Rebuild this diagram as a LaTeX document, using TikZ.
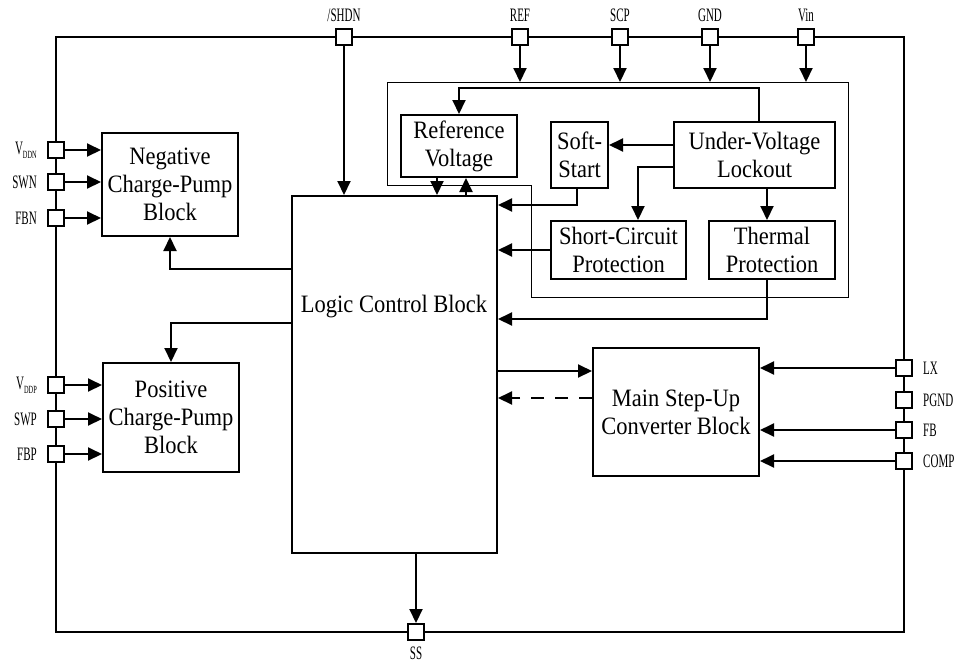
\documentclass[tikz,border=0pt]{standalone}
\usepackage{fontspec}
\setmainfont{Liberation Serif}
\newfontfamily\blockfont[FakeStretch=0.9]{Liberation Serif}
\newfontfamily\pinfont[FakeStretch=0.58]{Liberation Serif}
\usetikzlibrary{arrows.meta}
\usetikzlibrary{positioning}

\newcommand{\pinsub}[1]{\raisebox{-0.45ex}{\fontsize{11}{11}\selectfont #1}}

\begin{document}
\begin{tikzpicture}[
        x=1pt, y=-1pt,
        >={Triangle[length=14pt,width=13pt]},
        block/.style={
            draw=black,
            line width=2pt,
            fill=white,
            align=center,
            inner sep=0pt,
            font=\blockfont\fontsize{25}{28}\selectfont
        },
        pinbox/.style={draw=black, line width=2pt, fill=white,
            minimum size=16pt, inner sep=0pt},
        pinlbl/.style={inner sep=0pt, font=\pinfont\fontsize{19}{19}\selectfont},
        wire/.style={line width=2pt},
        sig/.style={line width=2pt, ->}
    ]

    \useasboundingbox (0,0) rectangle (955,665);

    % chip outline and the supervisory group
    \draw[wire] (56,37) rectangle (904,632);
    \coordinate (grpNW) at (387,82);
    \draw[line width=1pt] (grpNW) -- (848,82) -- (848,297) -- (531,297)
        -- (531,185) -- (387,185) -- cycle;

    % blocks
    \node[block, minimum width=136pt, minimum height=103pt] (negcp) at (170,184.5)
        {Negative\\Charge-Pump\\Block};
    \node[block, minimum width=136pt, minimum height=109pt] (poscp) at (171,417.5)
        {Positive\\Charge-Pump\\Block};
    \node[block, minimum width=205pt, minimum height=357pt] (lcb) at (394.5,374.5) {};
    \node[font=\blockfont\fontsize{25}{28}\selectfont, inner sep=0pt] (lcbtext) at (394,307)
        {Logic Control Block};
    \node[block, minimum width=116pt, minimum height=62pt] (refv) at (459,146)
        {Reference\\Voltage};
    \node[block, minimum width=57pt, minimum height=66pt] (soft) at (579.5,155)
        {Soft-\\Start};
    \node[block, minimum width=161pt, minimum height=66pt] (uvlo) at (754.5,155)
        {Under-Voltage\\Lockout};
    \node[block, minimum width=135pt, minimum height=58pt] (scp) at (618.5,250)
        {Short-Circuit\\Protection};
    \node[block, minimum width=126pt, minimum height=58pt] (thp) at (772,250)
        {Thermal\\Protection};
    \node[block, minimum width=166pt, minimum height=128pt] (conv) at (676,412)
        {Main Step-Up\\Converter Block};

    % pins
    \node[pinbox] (pSHDN) at (344,37) {};
    \node[pinbox] (pREF)  at (520,37) {};
    \node[pinbox] (pSCP)  at (620,37) {};
    \node[pinbox] (pGND)  at (710,37) {};
    \node[pinbox] (pVIN)  at (806,37) {};

    \node[pinbox] (pVDDN) at (56,150) {};
    \node[pinbox] (pSWN)  at (56,182) {};
    \node[pinbox] (pFBN)  at (56,218) {};
    \node[pinbox] (pVDDP) at (56,385) {};
    \node[pinbox] (pSWP)  at (56,419) {};
    \node[pinbox] (pFBP)  at (56,454) {};

    \node[pinbox] (pLX)   at (904,368) {};
    \node[pinbox] (pPGND) at (904,400) {};
    \node[pinbox] (pFB)   at (904,430) {};
    \node[pinbox] (pCOMP) at (904,461) {};

    \node[pinbox] (pSS)   at (416,632) {};

    \node[pinlbl, above=6pt of pSHDN] (lSHDN) {/SHDN};
    \node[pinlbl, above=6pt of pREF]  (lREF)  {REF};
    \node[pinlbl, above=6pt of pSCP]  (lSCP)  {SCP};
    \node[pinlbl, above=6pt of pGND]  (lGND)  {GND};
    \node[pinlbl, above=6pt of pVIN]  (lVIN)  {Vin};

    \node[pinlbl, left=10pt of pVDDN] (lVDDN) {V\pinsub{DDN}};
    \node[pinlbl, left=10pt of pSWN]  (lSWN)  {SWN};
    \node[pinlbl, left=10pt of pFBN]  (lFBN)  {FBN};
    \node[pinlbl, left=10pt of pVDDP] (lVDDP) {V\pinsub{DDP}};
    \node[pinlbl, left=10pt of pSWP]  (lSWP)  {SWP};
    \node[pinlbl, left=10pt of pFBP]  (lFBP)  {FBP};

    \node[pinlbl, right=10pt of pLX]   (lLX)   {LX};
    \node[pinlbl, right=10pt of pPGND] (lPGND) {PGND};
    \node[pinlbl, right=10pt of pFB]   (lFB)   {FB};
    \node[pinlbl, right=10pt of pCOMP] (lCOMP) {COMP};

    \node[pinlbl, below=6pt of pSS] (lSS) {SS};

    % signals
    \foreach \p in {pREF,pSCP,pGND,pVIN}
        \draw[sig] (\p.south) -- (\p |- grpNW);
    \draw[sig] (pSHDN.south) -- (pSHDN |- lcb.north);

    \draw[sig] ([xshift=4.5pt]uvlo.north) |- ([yshift=26pt]refv.north) -- (refv.north);
    \draw[sig] ([yshift=10pt]uvlo.west) -- ([yshift=10pt]uvlo.west -| soft.east);
    \draw[sig] ([yshift=-12pt]uvlo.west) -| ([xshift=19.5pt]scp.north);
    \draw[sig] ([xshift=12.5pt]uvlo.south) -- ([xshift=12.5pt]uvlo.south |- thp.north);

    \draw[sig] ([xshift=-2.5pt]soft.south) |- ([yshift=-10pt]lcb.north east);
    \draw[sig] (scp.west) -- (scp.west -| lcb.east);
    \draw[sig] ([xshift=-5pt]thp.south) |- ([yshift=-124pt]lcb.north east);

    \draw[sig] ([xshift=-22pt]refv.south) -- ([xshift=-22pt]refv.south |- lcb.north);
    \draw[sig] ([xshift=7pt]refv.south |- lcb.north) -- ([xshift=7pt]refv.south);

    \draw[sig] ([yshift=-74pt]lcb.north west) -| (negcp.south);
    \draw[sig] ([yshift=-128pt]lcb.north west) -| (poscp.north);

    \draw[sig] ([yshift=41pt]conv.west -| lcb.east) -- ([yshift=41pt]conv.west);
    \draw[sig, dash pattern=on 13pt off 11pt]
        ([yshift=14pt]conv.west) -- ([yshift=14pt]conv.west -| lcb.east);

    \foreach \p in {pLX,pFB,pCOMP}
        \draw[sig] (\p.west) -- (\p -| conv.east);
    \foreach \p in {pVDDN,pSWN,pFBN}
        \draw[sig] (\p.east) -- (\p -| negcp.west);
    \foreach \p in {pVDDP,pSWP,pFBP}
        \draw[sig] (\p.east) -- (\p -| poscp.west);

    \draw[sig] (lcb.south -| pSS) -- (pSS.north);

\end{tikzpicture}
\end{document}
